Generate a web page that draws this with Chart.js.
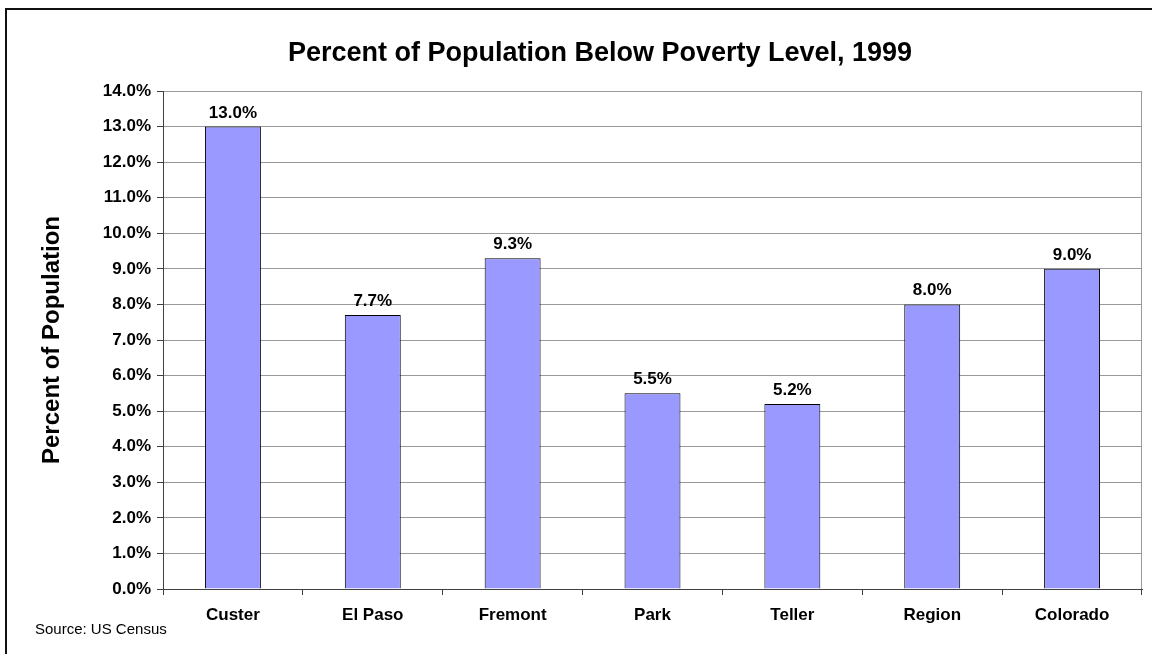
<!DOCTYPE html>
<html>
<head>
<meta charset="utf-8">
<script src="https://cdn.jsdelivr.net/npm/chart.js@4/dist/chart.umd.min.js"></script>
<style>
  html, body { margin: 0; padding: 0; background: #fff; }
  #wrap { width: 1152px; height: 654px; }
</style>
</head>
<body>
<div id="wrap"><canvas id="poverty"></canvas></div>
<script>
// Poverty rates by county, 1999 (percent)
const counties = ['Custer', 'El Paso', 'Fremont', 'Park', 'Teller', 'Region', 'Colorado'];
const povertyPct = [13.0, 7.7, 9.3, 5.5, 5.2, 8.0, 9.0];
const yMin = 0;
const yMax = 14;
const yStep = 1;

const FONT = "'Liberation Sans', Arial, sans-serif";

// value labels above the bars, plus title, source note and frame
const decor = {
    id: 'decor',
    afterDatasetsDraw(chart) {
        const ctx = chart.ctx;
        const meta = chart.getDatasetMeta(0);
        ctx.save();
        ctx.fillStyle = '#000';
        ctx.font = `bold 17px ${FONT}`;
        ctx.textAlign = 'center';
        ctx.textBaseline = 'alphabetic';
        meta.data.forEach((bar, i) => {
            ctx.fillText(povertyPct[i].toFixed(1) + '%', bar.x, bar.y - 9);
        });
        ctx.restore();
    },
    afterDraw(chart) {
        const ctx = chart.ctx;
        const area = chart.chartArea;
        ctx.save();

        // right edge of the plot box
        ctx.strokeStyle = '#999';
        ctx.lineWidth = 1;
        ctx.beginPath();
        ctx.moveTo(area.right - 0.5, area.top);
        ctx.lineTo(area.right - 0.5, area.bottom);
        ctx.stroke();

        // outer frame
        ctx.strokeStyle = '#111';
        ctx.lineWidth = 2;
        ctx.beginPath();
        ctx.moveTo(6, chart.height);
        ctx.lineTo(6, 9);
        ctx.lineTo(chart.width, 9);
        ctx.stroke();

        ctx.fillStyle = '#000';
        ctx.textBaseline = 'alphabetic';
        ctx.font = `bold 27px ${FONT}`;
        ctx.textAlign = 'center';
        ctx.fillText('Percent of Population Below Poverty Level, 1999', 600, 61);

        ctx.font = `15px ${FONT}`;
        ctx.textAlign = 'left';
        ctx.fillText('Source: US Census', 35, 634);
        ctx.restore();
    }
};

new Chart(document.getElementById('poverty'), {
    type: 'bar',
    data: {
        labels: counties,
        datasets: [{
            data: povertyPct,
            backgroundColor: '#9999FF',
            borderColor: '#000',
            borderWidth: 1,
            categoryPercentage: 1.0,
            barPercentage: 0.4
        }]
    },
    options: {
        responsive: true,
        maintainAspectRatio: false,
        animation: false,
        layout: { padding: { top: 91, right: 10, left: 0, bottom: 0 } },
        plugins: {
            legend: { display: false },
            tooltip: { enabled: false }
        },
        scales: {
            x: {
                grid: {
                    display: true,
                    drawOnChartArea: false,
                    drawTicks: true,
                    tickLength: 6,
                    tickColor: '#404040',
                    offset: true
                },
                border: { color: '#404040', width: 1 },
                ticks: {
                    color: '#000',
                    font: { family: FONT, size: 17, weight: 'bold' },
                    padding: 10,
                    maxRotation: 0
                },
                afterFit(scale) { scale.height = 65; }
            },
            y: {
                min: yMin,
                max: yMax,
                grid: {
                    color: '#999',
                    lineWidth: 1,
                    drawTicks: true,
                    tickLength: 6,
                    tickColor: '#404040'
                },
                border: { color: '#404040', width: 1 },
                ticks: {
                    stepSize: yStep,
                    color: '#000',
                    font: { family: FONT, size: 17, weight: 'bold' },
                    padding: 6,
                    callback: (v) => v.toFixed(1) + '%'
                },
                title: {
                    display: true,
                    text: 'Percent of Population',
                    color: '#000',
                    font: { family: FONT, size: 24, weight: 'bold' },
                    padding: { top: 38, bottom: 0 }
                },
                afterFit(scale) { scale.width = 163; }
            }
        }
    },
    plugins: [decor]
});
</script>
</body>
</html>
